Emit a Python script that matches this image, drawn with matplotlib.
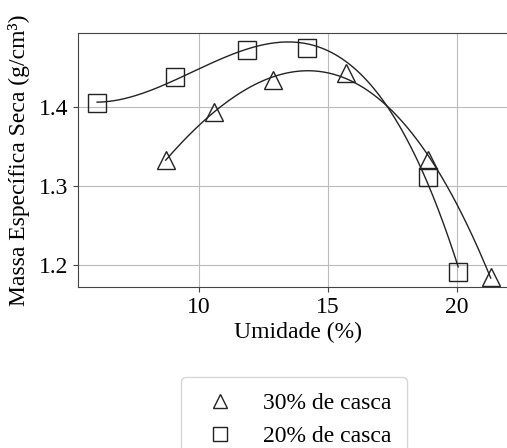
import numpy as np
import matplotlib
matplotlib.use("Agg")
import matplotlib.pyplot as plt

plt.rcParams['font.family'] = ['Liberation Serif', 'DejaVu Serif']

# dados
umid_30 = [8.71, 10.59, 12.88, 15.70, 18.89, 21.31]
mes_30 = [1.333, 1.393, 1.434, 1.442, 1.333, 1.185]
umid_20 = [6.05, 9.07, 11.86, 14.17, 18.89, 20.05]
mes_20 = [1.404, 1.438, 1.472, 1.474, 1.311, 1.191]

labels = ["30% de casca", "20% de casca"]

fig = plt.figure(figsize=(5.07, 4.48), dpi=100)
ax = fig.add_axes([78/507, 1-287/448, (517-78)/507, (287-33)/448])

# curvas ajustadas (polinomio de 3o grau)
for x, y in [(umid_30, mes_30), (umid_20, mes_20)]:
    c = np.polyfit(x, y, 3)
    xs = np.linspace(min(x), max(x), 200)
    ax.plot(xs, np.polyval(c, xs), color='#222222', lw=1.0, zorder=2)

ax.plot(umid_30, mes_30, ls='none', marker='^', ms=13, mfc='none', mec='#222222',
        mew=1.0, label=labels[0], zorder=3)
ax.plot(umid_20, mes_20, ls='none', marker='s', ms=13, mfc='none', mec='#222222',
        mew=1.0, label=labels[1], zorder=3)

ax.set_xlim(5.31, 22.33)
ax.set_ylim(1.172, 1.493)
ax.set_xticks([10, 15, 20])
ax.set_yticks([1.2, 1.3, 1.4])
ax.grid(True, color='#bbbbbb', lw=0.8)
ax.set_axisbelow(True)
for s in ax.spines.values():
    s.set_color('#444444')
ax.tick_params(labelsize=17, color='#444444')
ax.set_xlabel("Umidade (%)", fontsize=17, labelpad=3)
ax.set_ylabel("Massa Específica Seca (g/cm³)", fontsize=17, labelpad=6)

fig.legend(loc='upper center', bbox_to_anchor=(294/507, 1-377/448), fontsize=17,
           frameon=True, edgecolor='#cccccc', markerscale=0.8, borderaxespad=0,
           borderpad=0.65)

fig.savefig("out.png", dpi=100)
